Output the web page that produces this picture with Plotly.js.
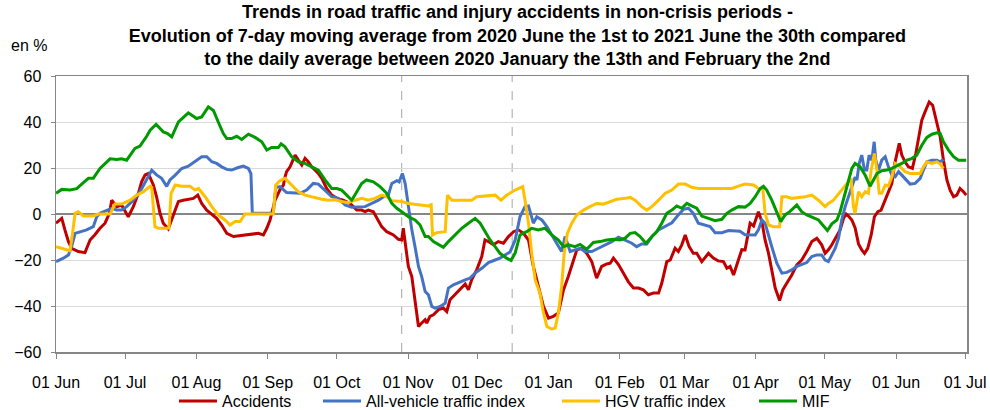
<!DOCTYPE html>
<html>
<head>
<meta charset="utf-8">
<script src="https://cdn.plot.ly/plotly-3.0.1.min.js"></script>
<style>html,body{margin:0;padding:0;background:#fff;}#chart{width:990px;height:410px;}</style>
</head>
<body>
<div id="chart"></div>
<script>
// Days counted from 2020-06-01, values in %
const accDay = [0,2.5,3.9,5.4,6.8,9.7,12.6,14.8,16.9,19.1,21.3,23.2,24.2,26.4,28.5,31.4,33.6,35.8,37.2,38.7,40.1,42.3,43.7,45.2,46.6,48.8,51.8,53.2,55.3,57.5,59.7,61.6,63.3,65.5,67.7,69.8,72,74.2,77.1,79.2,82.1,85,87.9,90.1,91.6,93,95.2,97.3,98.8,99.5,100.2,101.7,102.4,103.9,105.3,106.8,108.2,109.6,111.1,112.6,114,115.5,117.6,119.8,122,124.8,127.8,130.7,132.8,134.3,135.7,137.9,140.1,141.5,143.7,146.6,148.8,150.2,150.9,152,153.1,154.6,156,157.5,158.9,160.4,161.1,162.5,164,166.2,168.3,169.8,171.2,173.4,175.6,177.8,179.2,180.6,182.8,185,186.4,187.9,190,192.2,194.4,196.6,198.8,200.9,203.1,205.3,207.4,209.6,211.8,214,216.1,218.3,220.5,222.6,224.8,226.3,228.4,230.6,232.8,234.9,237.1,239.3,240.8,242.2,244.4,246.5,248.7,250.9,253.1,255.2,257.4,259.6,261.8,263.2,265.4,266.9,269,270.4,271.9,273.4,275.1,276.9,278.4,280.6,283.5,285.6,287.7,290,291.5,292.9,294.4,296.5,298,299.4,300.9,301.6,303.1,305.2,306.7,308.1,309.6,311,312.5,314.4,315.8,317.5,319.7,321.9,324,326.2,328.4,330.6,332.7,334.2,335.6,337.1,339.3,340.7,342.2,343.3,344.3,345.8,347.2,348.7,350.1,351.3,352.7,354.2,355.6,357.1,358.5,360,361.7,363.2,364.3,365.4,366.4,367.5,368.9,370.4,372.1,373.6,375.1,376.2,377.6,379.4,380.9,382.7,384.2,385.6,387.1,388.5,390,391.4,392.8,394.3,395.5];
const accVal = [-4,-1.9,-7,-12,-14.9,-16.3,-16.8,-11.3,-9,-6.2,-4,0.3,6,3.2,3.9,-1.2,3.2,9,14,17,17.6,12.6,7.5,0.3,-4,-6.5,1.7,5.4,6,6.4,6.8,8.2,4.6,1.7,0,-1.9,-4.8,-8.4,-9.8,-9.5,-9.1,-8.7,-8.4,-9.1,-6.2,-2.6,6,10.5,12.6,16,18.4,20.5,22,25.6,23.4,21.3,24.2,22.7,20.5,19.1,17.6,15.5,11.1,8.2,6.8,6,4.6,1.7,1.7,1,1.7,1,-2.6,-5.5,-7.7,-9.1,-11,-11.3,-6.2,-14.2,-22.8,-27.2,-37.3,-48.9,-47.4,-46,-47.4,-44.5,-43.8,-41.6,-40.9,-42.4,-37.3,-35.1,-33,-30.4,-33,-28.6,-24.3,-18.5,-11.3,-12,-13.4,-12,-12.7,-9.8,-7.7,-6.9,-8.4,-11.3,-22.8,-31.5,-40.2,-45.3,-44.5,-43,-33,-27.2,-20.2,-15.6,-14.9,-17.1,-20.7,-27.9,-22.8,-21.7,-21.4,-19.2,-22,-26,-29.5,-32.2,-32.2,-33,-35.1,-34.4,-34.4,-30.1,-20.7,-20,-14.9,-16.3,-13.4,-9.1,-14.2,-17.1,-17.1,-20.7,-17.1,-19.2,-20.4,-20.7,-23.6,-22.8,-26.5,-20,-15.5,-15.6,-8.4,-4,-5.2,1,-3.3,-11.3,-17.1,-24.3,-32.2,-37.6,-33,-30.1,-26.5,-22.1,-20,-16.3,-12,-10.6,-13.4,-17.1,-15.6,-13.4,-9.8,-6.9,-1.9,0,-0.9,-2.6,-6,-13,-15.6,-17.1,-14.9,-9.1,-1.2,1,1.7,5.4,9,13.3,21.3,26.3,30.7,25.6,22.7,20.5,19.8,26.3,35,40.8,44.4,48.7,47.3,40.1,33.5,23.4,14.8,10.4,7.5,8.2,11.1,9.7,8.2];

const trafDay = [0,3.2,5.4,6.8,8.3,10.4,13.3,16.2,17.7,19.1,22,24.2,26.4,28.5,30.7,33.6,36.5,39.4,41.6,43.7,45.9,48.1,49.5,51.8,54.6,57.5,60.4,63.3,65.5,67.7,69.8,72,74.2,76.3,79.2,81.4,83.6,84.7,85.3,94.4,95.5,97.3,100.2,103.1,106,108.9,111.8,114,116.9,119.8,122.7,125.6,128.5,131.4,134.3,137.2,140.1,142.3,144.4,145.9,148.1,149.1,150.5,151.7,153.1,154.6,156,157.5,158.9,160.4,161.8,163.3,164.7,166.9,169.1,170.5,172.7,175.6,177.8,179.9,182.1,185,187.9,190.8,192.9,195.1,197.3,199.5,201.6,203.8,205.3,207.4,208.9,211.1,213.3,215.4,217.6,219.7,221.2,223.4,225.5,227.7,229.9,232.8,235.7,238.6,241.5,244.4,247.3,250.2,252.3,254.5,256.7,258.9,261.8,264.7,267.6,270.4,272.6,274.8,276.9,279.1,282,284.2,286.4,289.3,292.2,295.1,297.2,299.4,301.6,303.8,305.2,306.7,308.1,309.6,311,313.2,315.4,317.5,319.7,321.9,324,326.2,328.4,330.6,332.7,334.2,335.6,337.1,338.6,340,341.4,342.9,344.3,345.8,347.2,348,349,350.1,351.3,352.3,353.3,354.5,355.5,356.2,357.4,358.8,360.3,361.7,363.2,364.6,366.1,367.5,368.9,371.1,373.3,375.5,376.9,378.4,380.6,382.7,384.2,385.6];
const trafVal = [-20.7,-19.2,-17.8,-14.2,-8.4,-7.7,-6.9,-5.5,-1.2,0.3,1.7,2.5,1.7,1.7,3.2,6,9.7,14.8,19,17,15.5,12,14.8,16.9,19.8,20.8,22.7,24.9,24.9,22.7,22,20.5,19.4,19.1,20.2,20.8,19.8,17.6,0.3,0.3,11.5,11.9,9.3,9,9,10.4,13.3,13,10.4,7.5,6.8,3.9,2.9,3.2,3.2,4.6,6,7.5,8.2,13.3,14.5,14,17.6,13.3,3.2,-6.9,-14.2,-22.8,-27.2,-33.7,-35.1,-40.2,-40.9,-40.2,-38.8,-32.2,-30.8,-29.4,-28.6,-27.9,-25.7,-23.6,-21.1,-20,-19.2,-17.8,-16.5,-11.3,-1.2,3.2,3.5,-4,-1.2,-2.6,-5.5,-9.1,-12.7,-16.3,-9.8,-16.3,-15.6,-14.9,-16.3,-16.3,-14.9,-13.4,-12,-10.1,-11.3,-12.7,-14.2,-13,-13,-9.8,-6.9,-5.5,-3.8,-0.4,2,2.5,0.3,-4,-4.8,-5.5,-8.1,-8.1,-7.2,-7.2,-7.5,-9,-9.1,-9.1,-6.9,-2.6,-4,-9.8,-14.2,-21.4,-25.7,-25.4,-24.3,-22.8,-22.1,-21.1,-18.5,-17.8,-17.8,-20,-20.7,-17.8,-14.9,-10.6,-2.6,3.2,7.5,11.9,16,14.8,22,25.6,19.1,19.1,25.6,23.4,31.4,23.4,19.1,23.4,24.9,20.5,16.9,16.2,18.4,16.9,15.5,13,13.3,15.5,19.1,22.7,23.4,23.4,22.7,23.7];

const hgvDay = [0,3.2,6.1,7.2,8.3,9.7,11.9,16.2,18.4,23.5,25.6,28.5,32.2,35.1,38,40.9,41.6,43,44.5,49.1,50,51.8,54.6,58.2,60.4,61.9,64.8,67.7,70.5,73.4,75.6,77.8,80,82.1,94.4,95.5,97.3,99.5,102.4,105.3,108.2,111.8,115.5,118.4,121.3,124.1,127,129.9,132.8,135.7,138.6,141.5,143.7,145.9,148.1,150.2,153.1,156,158.9,161.8,163,163.6,165.4,169.1,170.1,172,176.3,180.6,182.8,186.4,190.8,193.4,195.8,199.5,202.8,203.8,205.3,206.7,208.2,210.3,211.8,213.3,215.4,216.9,218.3,219.7,220.8,222.2,224.1,226.3,229.2,232,234.9,237.8,240.8,243.6,247.3,249.5,251.6,254.5,256.7,258.9,261.8,264.7,267.6,270.4,273.4,276.2,279.1,283.5,287.7,293.6,296.5,299.4,303.1,305.2,307.1,308.1,309.6,311.7,314.4,315.4,317.5,319.7,322.6,325.5,328.4,331.3,334.2,335.6,337.8,340.7,342.9,344.3,345.5,346.5,347.2,348,348.7,350.1,351.6,353,354.2,355.6,356.7,357.7,358.8,360.3,361.7,363.2,364.6,366.8,368.9,371.1,375.5,376.9,378.4,380.6,382.7,384.2,385.6];
const hgvVal = [-14.2,-15.3,-16,-8.4,0.3,1,-0.9,-0.9,0,0,4.3,4.3,6,8.2,9.7,12.1,11.5,-5.5,-6.2,-6.2,9,12.6,12.1,12.1,10.4,11.1,7.5,3.2,-0.4,-2.6,-4.8,-3.3,-3.3,0,0,12.6,14.5,15.5,12.6,9.7,8.2,7.2,6.4,6,6.2,5.4,4.9,6,6.8,6,6.8,8.2,7.5,5.8,5.5,5.4,4.6,4.3,3.9,3.5,4,-9.1,-8.1,-7.7,8.2,6,6,6,7.5,7.8,8.2,6,8.2,10.4,11.9,6,-4,-17.1,-28.6,-34.4,-43,-48.9,-50,-49.6,-43,-31.5,-17.1,-8.4,-4,-0.4,1.7,3.2,4.6,4.3,5.4,6.4,6.8,7.2,6,3.2,1.7,3.2,6,9,10.4,13,13,11.6,11.1,11.1,11.1,11.1,12.1,13,12.6,11.1,11.1,0.3,-4.8,-5.5,-5.5,7.5,7.5,6.8,7.2,7.5,8.2,6,3.2,4.6,6,9.7,12.6,14,14.8,3.2,0.3,6,9.7,7.5,9.7,9,19.1,26.3,19.1,9,9,12.6,12.2,16.2,22,20.5,18.4,17.6,17.6,20.5,22.7,22,22.7,21.7,19.8];

const mifDay = [0,2.5,6.1,9,11.9,14.1,16.2,19.1,23.5,26.4,28.5,30.7,34.3,36.5,39.4,40.9,43.5,46.6,48.5,50.3,53.2,57.5,61.1,63.3,66.2,68.4,70.5,72.7,74.2,76.3,78.5,80.7,83.6,86.5,89.4,91.6,93.7,96.6,97.8,99.5,102.4,105.3,108.2,111.1,114,116.9,119.8,122,124.1,126.3,128.5,130.7,132.8,134.9,137.9,140.8,143.7,145.9,148.1,150.2,153.1,156,158.2,160.4,161.8,164,166.2,168.3,170.5,173.4,176.3,179.2,182.1,184.3,186.4,188.6,190.8,192.9,195.8,197.7,199.5,201.6,204.5,206.7,209.6,212.5,215.4,218.3,220.5,222.6,225.5,227.7,230.6,233.5,236.4,239.3,242.2,245.1,247.3,249.5,251.6,253.8,256.3,258.1,261,263.2,265.4,267.6,269.7,271.9,274.1,276.2,278.4,280.6,283.5,286.4,289.3,291.5,293.6,296.5,299.4,301.6,303.8,306,307.4,308.8,311,313.2,314.9,316.8,318.8,321.9,324,326.2,328.4,331.3,333.5,335.2,337.1,339.3,340.7,342.9,344.3,345.8,347.2,349.4,351.6,353.7,355.2,356.7,358.8,361,363.2,365.4,367.5,369.7,371.8,374,376.2,378.4,380.6,382.7,384.2,385.6,387.8,390,392.1,394.3,395.5];
const mifVal = [9,10.7,10.4,11,13.6,15.5,15.5,19.8,24,23.7,24,23.4,28.5,29.5,33.8,36.4,39,35.7,35,33.5,40,44,41.5,42.2,46.6,45,40,35,32.8,32.8,33.8,32.4,34.7,33.3,31.4,27.8,28.9,28.9,30.5,29.2,24.9,22.7,22,20.5,19.1,14.8,11.1,11.1,10.4,8.2,6,9.7,13.3,14.8,14,11.9,9,4.6,2.5,1,-1.2,-2.6,-4.8,-9.8,-9.8,-12,-13.4,-14.5,-12,-9.1,-6.2,-4,-1.9,-4,-7.7,-11.3,-14.2,-17.1,-19.2,-20.2,-17,-9.1,-7.7,-6.2,-6.9,-6.2,-9.1,-11.3,-14.2,-13.4,-14.2,-13.2,-15.3,-12.4,-12,-11.3,-11,-11.3,-10.5,-8.4,-8.1,-9.8,-12.7,-10.6,-7.7,-4,0.3,1.7,3.5,2.5,4.6,3.5,2.5,-0.9,-1.9,-2.9,-2.3,0.3,1.7,3.2,3,4.6,7.5,11.1,12.1,10.4,6,0.3,-3.3,-0.4,1,3.9,1,-0.4,-1.2,-2.6,-5.2,-7.2,-4.3,-2.6,1,9,14.8,19.8,22,20.5,16.9,12.1,14.8,17.6,18.8,19.1,19.8,20.8,22,23.4,24.1,25.6,29.9,33.3,34.7,35.3,35,31.4,27.8,24.9,23.4,23.4,23.4];

const seriesNames = ['Accidents','All-vehicle traffic index','HGV traffic index','MIF'];
const seriesColors = ['#C00000','#4472C4','#FFC000','#009A00'];
const lockdownDates = ['2020-10-29 05:00','2020-12-16 05:00'];

const base = Date.UTC(2020,5,1);
function toDate(d){ return new Date(base + d*86400000).toISOString().replace('T',' ').slice(0,19); }

const legendIds = ['legend','legend2','legend3','legend4'];
const legendX = [0.1295, 0.2876, 0.5499, 0.7662];

const pairs = [[accDay,accVal],[trafDay,trafVal],[hgvDay,hgvVal],[mifDay,mifVal]];
const traces = pairs.map((p,i)=>({
  type:'scatter', mode:'lines', name:seriesNames[i], legend:legendIds[i],
  x:p[0].map(toDate), y:p[1],
  line:{color:seriesColors[i], width:3}
}));

const FONT = 'Liberation Sans, Arial, sans-serif';
const layout = {
  width:990, height:410,
  margin:{l:56, r:23, t:76, b:58, autoexpand:false},
  paper_bgcolor:'#fff', plot_bgcolor:'#fff',
  font:{family:FONT, size:16, color:'#000'},
  title:{
    text:'<b>Trends in road traffic and injury accidents in non-crisis periods -<br>Evolution of 7-day moving average from 2020 June the 1st to 2021 June the 30th compared<br>to the daily average between 2020 January the 13th and February the 2nd</b>',
    font:{family:FONT, size:18, color:'#000'},
    x:0.5227, xanchor:'center', y:0.955, yanchor:'top', yref:'container'
  },
  xaxis:{
    type:'date', range:['2020-06-01','2021-07-01 20:00'],
    tick0:'2020-06-01', dtick:'M1', tickformat:'%d %b',
    showgrid:false, ticks:'outside', ticklen:5, tickcolor:'#868686',
    showline:true, linecolor:'#868686', linewidth:1.5, mirror:true,
    ticklabelstandoff:10,
    tickfont:{family:FONT, size:16, color:'#000'}
  },
  yaxis:{
    range:[-60,60], dtick:20, tick0:0,
    showgrid:true, gridcolor:'#D9D9D9', gridwidth:1,
    zeroline:true, zerolinecolor:'#868686', zerolinewidth:2.5,
    ticks:'outside', ticklen:4, tickcolor:'#868686',
    showline:true, linecolor:'#868686', linewidth:1.5, mirror:true,
    ticklabelstandoff:6,
    tickfont:{family:FONT, size:16, color:'#000'}
  },
  shapes: lockdownDates.map(d=>({
    type:'line', xref:'x', yref:'paper', x0:d, x1:d, y0:0, y1:1,
    line:{color:'#A6A6A6', width:1, dash:'dash'}, layer:'below'
  })),
  annotations:[{
    text:'en %', xref:'paper', yref:'paper', x:-0.052, y:1.112,
    xanchor:'left', yanchor:'middle', showarrow:false,
    font:{family:FONT, size:16, color:'#000'}
  }],
  showlegend:true
};
legendIds.forEach((id,i)=>{
  layout[id] = {
    orientation:'h', x:legendX[i], xanchor:'left', y:-0.178, yanchor:'middle',
    font:{family:FONT, size:16, color:'#000'}, bgcolor:'rgba(0,0,0,0)',
    itemwidth:38
  };
});

Plotly.newPlot('chart', traces, layout, {staticPlot:true, displayModeBar:false});
</script>
</body>
</html>
